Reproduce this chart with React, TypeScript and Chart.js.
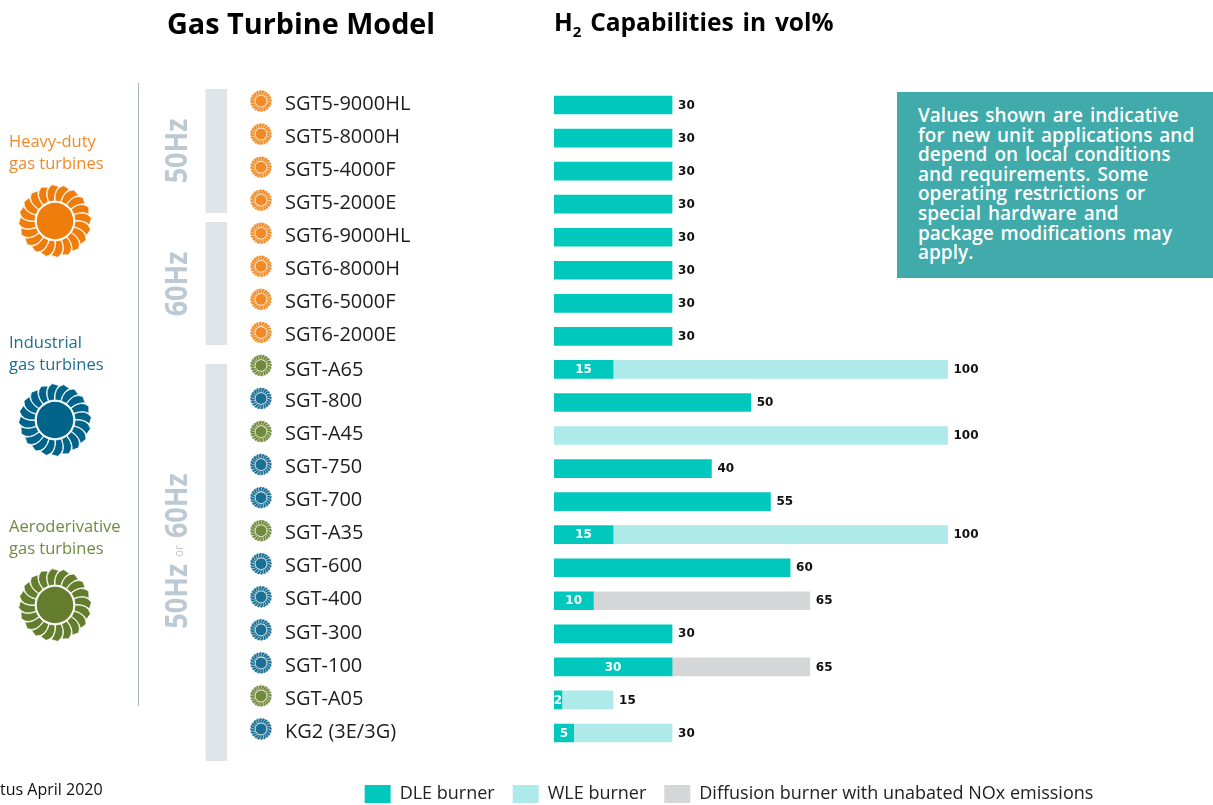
import React, { useEffect, useRef } from "react";
import { Chart, registerables } from "chart.js";

Chart.register(...registerables);

const models = [
  "SGT5-9000HL", "SGT5-8000H", "SGT5-4000F", "SGT5-2000E",
  "SGT6-9000HL", "SGT6-8000H", "SGT6-5000F", "SGT6-2000E",
  "SGT-A65", "SGT-800", "SGT-A45", "SGT-750", "SGT-700", "SGT-A35",
  "SGT-600", "SGT-400", "SGT-300", "SGT-100", "SGT-A05", "KG2 (3E/3G)",
];
const families = [
  "heavy", "heavy", "heavy", "heavy", "heavy", "heavy", "heavy", "heavy",
  "aero", "industrial", "aero", "industrial", "industrial", "aero",
  "industrial", "industrial", "industrial", "industrial", "aero", "industrial",
];
const dleBurner = [30, 30, 30, 30, 30, 30, 30, 30, 15, 50, null, 40, 55, 15, 60, 10, 30, 30, 2, 5];
const wleBurner = [null, null, null, null, null, null, null, null, 85, null, 100, null, null, 85, null, null, null, null, 13, 25];
const diffusionBurner = [null, null, null, null, null, null, null, null, null, null, null, null, null, null, null, 55, null, 35, null, null];

const familyColors: Record<string, string> = { heavy: "#ee7d0c", industrial: "#00638a", aero: "#647d2c" };
const smallColors: Record<string, string> = { heavy: "#f08a24", industrial: "#1a6f94", aero: "#71893a" };
const FONT = "'Open Sans'";

function turbine(ctx: CanvasRenderingContext2D, x: number, y: number, R: number, color: string) {
  const p = (r: number, a: number): [number, number] => [x + r * Math.cos(a), y + r * Math.sin(a)];
  const n = 20;
  ctx.save();
  ctx.fillStyle = color;
  ctx.strokeStyle = "#ffffff";
  ctx.lineWidth = R / 45;
  for (let i = 0; i < n; i++) {
    const a = (i / n) * Math.PI * 2;
    const r0 = R * 0.55;
    ctx.beginPath();
    ctx.moveTo(...p(r0, a));
    ctx.quadraticCurveTo(...p(R * 0.9, a - 0.03), ...p(R, a + 0.24));
    ctx.lineTo(...p(R * 0.95, a + 0.43));
    ctx.quadraticCurveTo(...p(R * 0.8, a + 0.28), ...p(r0, a + 0.29));
    ctx.closePath();
    ctx.fill();
    ctx.stroke();
  }
  ctx.beginPath();
  ctx.arc(x, y, R * 0.5, 0, Math.PI * 2);
  ctx.fill();
  ctx.restore();
}

const decorPlugin = {
  id: "decor",
  beforeDatasetsDraw(chart: any) {
    const ctx = chart.ctx as CanvasRenderingContext2D;
    const yScale = chart.scales.y;
    ctx.save();
    ctx.fillStyle = "#dfe4e8";
    ctx.fillRect(205.5, 89, 21.5, 124);
    ctx.fillRect(205.5, 222, 21.5, 123);
    ctx.fillRect(205.5, 364, 21.5, 397);
    ctx.fillStyle = "#a3b6c4";
    ctx.fillRect(138, 83, 1, 623);
    ctx.restore();
    turbine(ctx, 55, 221, 36.5, familyColors.heavy);
    turbine(ctx, 55, 420, 36.5, familyColors.industrial);
    turbine(ctx, 55, 605, 36.5, familyColors.aero);
    families.forEach((f, i) => {
      turbine(ctx, 261, yScale.getPixelForTick(i) - 4, 11, smallColors[f]);
    });
  },
};

const valuePlugin = {
  id: "values",
  afterDatasetsDraw(chart: any) {
    const ctx = chart.ctx as CanvasRenderingContext2D;
    const xS = chart.scales.x;
    const yS = chart.scales.y;
    ctx.save();
    ctx.font = "bold 12px 'DejaVu Sans'";
    ctx.textBaseline = "middle";
    models.forEach((_, i) => {
      const d = dleBurner[i] ?? 0;
      const w = wleBurner[i] ?? 0;
      const g = diffusionBurner[i] ?? 0;
      const total = d + w + g;
      const y = yS.getPixelForTick(i) + 0.5;
      ctx.textAlign = "left";
      ctx.fillStyle = "#111111";
      ctx.fillText(String(total), xS.getPixelForValue(total) + 6, y);
      if (d && total !== d) {
        ctx.textAlign = "center";
        ctx.fillStyle = "#ffffff";
        ctx.fillText(String(d), xS.getPixelForValue(d / 2), y);
      }
    });
    ctx.restore();
  },
};

const legendShift = {
  id: "legendShift",
  afterLayout(chart: any) {
    if (chart.legend) {
      chart.legend.top += 17.5;
      chart.legend.bottom += 17.5;
    }
  },
};

const abs = (left: number, top: number, extra: React.CSSProperties = {}): React.CSSProperties => ({
  position: "absolute",
  left,
  top,
  whiteSpace: "nowrap",
  fontFamily: FONT,
  ...extra,
});

function Hz({ y, x, children }: { y: number; x: number; children: React.ReactNode }) {
  return (
    <div
      style={abs(x, y, {
        transform: "translate(-50%,-50%) rotate(-90deg) scaleX(0.9)",
        color: "#bcc9d2",
        fontWeight: 700,
        fontSize: 30,
        lineHeight: 1,
      })}
    >
      {children}
    </div>
  );
}

export default function App() {
  const ref = useRef<HTMLCanvasElement>(null);
  useEffect(() => {
    const chart = new Chart(ref.current!, {
      type: "bar",
      data: {
        labels: models,
        datasets: [
          { label: "DLE burner", data: dleBurner, backgroundColor: "#00c8bd", barThickness: 18 },
          { label: "WLE burner", data: wleBurner, backgroundColor: "#aeeae9", barThickness: 18 },
          { label: "Diffusion burner with unabated NOx emissions", data: diffusionBurner, backgroundColor: "#d5d6d8", barThickness: 18 },
        ],
      },
      options: {
        indexAxis: "y",
        animation: false,
        responsive: false,
        layout: { padding: { left: 285, top: 88.5, right: 40, bottom: 9.5 } },
        scales: {
          x: { stacked: true, display: false, min: 0, max: 157.3 },
          y: {
            stacked: true,
            afterFit(scale: any) { scale.width = 269; },
            grid: { display: false },
            border: { display: false },
            ticks: {
              autoSkip: false,
              crossAlign: "far",
              color: "#1c1c1c",
              // a blank line lifts a label a little above the bar centre; SGT-A65 sits below it
              callback(_: any, i: number) { return models[i] === "SGT-A65" ? ["", models[i]] : [models[i], ""]; },
              font: { family: FONT, size: 20, lineHeight: "2px" },
            },
          },
        },
        plugins: {
          tooltip: { enabled: false },
          legend: {
            position: "bottom",
            labels: {
              boxWidth: 26,
              boxHeight: 18,
              padding: 18,
              color: "#222222",
              font: { family: FONT, size: 18 },
            },
          },
        },
      },
      plugins: [decorPlugin, valuePlugin, legendShift],
    } as any);
    return () => chart.destroy();
  }, []);

  return (
    <div style={{ position: "absolute", left: 0, top: 0, width: 1213, height: 805, overflow: "hidden", background: "#fff" }}>
      <canvas ref={ref} width={1213} height={805} style={{ display: "block" }} />

      <div style={abs(167, 4, { fontWeight: 700, fontSize: 28.8, lineHeight: "38px", color: "#000" })}>Gas Turbine Model</div>
      <div style={abs(554, 4, { fontWeight: 700, fontSize: 24.5, lineHeight: "36px", color: "#000", wordSpacing: 2.5 })}>
        H<sub style={{ fontSize: 15, lineHeight: 0 }}>2</sub> Capabilities in vol%
      </div>

      <div style={abs(9, 130, { color: "#f0892a", fontSize: 16.5, lineHeight: "22px" })}>Heavy-duty<br />gas turbines</div>
      <div style={abs(9, 331, { color: "#1c6f90", fontSize: 16.5, lineHeight: "22px" })}>Industrial<br />gas turbines</div>
      <div style={abs(9, 515, { color: "#6f8b3f", fontSize: 16.5, lineHeight: "22px" })}>Aeroderivative<br />gas turbines</div>

      <Hz x={176} y={151}>50Hz</Hz>
      <Hz x={176} y={284}>60Hz</Hz>
      <Hz x={176} y={551}>50Hz <span style={{ fontSize: 13, fontWeight: 400, verticalAlign: "middle" }}>or</span> 60Hz</Hz>

      <div
        style={abs(897, 92, {
          width: 316,
          height: 186,
          background: "#41aaaa",
          color: "#fff",
          fontWeight: 600,
          fontSize: 19,
          lineHeight: "19.6px",
          padding: "14px 0 0 21px",
          boxSizing: "border-box",
          wordSpacing: 2,
        })}
      >
        Values shown are indicative<br />for new unit applications and<br />depend on local conditions<br />and requirements. Some<br />operating restrictions or<br />special hardware and<br />package modifications may<br />apply.
      </div>

      <div style={abs(0, 779, { fontSize: 16, lineHeight: "20px", color: "#111" })}>tus April 2020</div>
    </div>
  );
}
